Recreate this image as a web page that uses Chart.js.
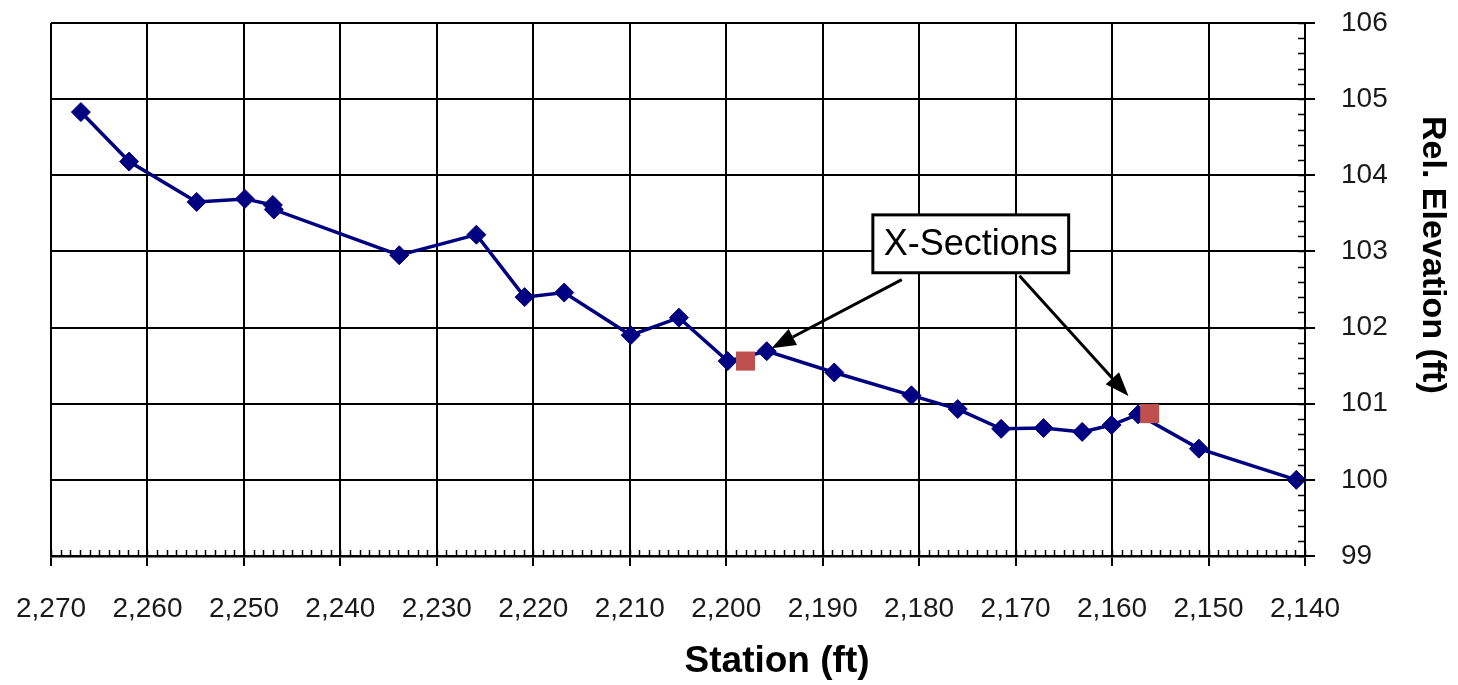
<!DOCTYPE html>
<html>
<head>
<meta charset="utf-8">
<script src="https://cdn.jsdelivr.net/npm/chart.js@4/dist/chart.umd.min.js"></script>
<style>
  html, body { margin: 0; padding: 0; background: #fff; }
</style>
</head>
<body>
<canvas id="myChart" width="1458" height="685"></canvas>
<script>
// profile points (station ft, relative elevation ft)
const stations   = [2266.9, 2261.9, 2254.9, 2249.9, 2247.0, 2246.9, 2233.9, 2225.9, 2220.9, 2216.8,
                    2209.9, 2204.9, 2199.85, 2195.8, 2188.8, 2180.8, 2176.0, 2171.5, 2167.1, 2163.1,
                    2160.05, 2157.3, 2151.0, 2140.9];
const elevations = [104.83, 104.18, 103.65, 103.69, 103.61, 103.55, 102.95, 103.22, 102.40, 102.46,
                    101.90, 102.13, 101.56, 101.69, 101.41, 101.11, 100.93, 100.67, 100.68, 100.63,
                    100.72, 100.86, 100.41, 100.00];

// cross-section locations
const xsStations   = [2198.0, 2156.1];
const xsElevations = [101.56, 100.87];

// axis ranges
const xMin = 2140, xMax = 2270, xStep = 10, xMinor = 1;
const yMin = 99, yMax = 106, yStep = 1, yMinor = 0.2;

// callout
const noteLabel = 'X-Sections';
const noteBox = { x1: 2184.8, y1: 103.48, x2: 2164.5, y2: 102.72 };
const noteArrows = [
    { fromX: 2181.8, fromY: 102.63, toX: 2195.3, toY: 101.73 },
    { fromX: 2169.6, fromY: 102.68, toX: 2158.3, toY: 101.10 }
];

const xTitle = 'Station (ft)';
const yTitle = 'Rel. Elevation (ft)';

const toPoints = (xs, ys) => xs.map((x, i) => ({ x: x, y: ys[i] }));

function arrow(ctx, x1, y1, x2, y2) {
    const ang = Math.atan2(y2 - y1, x2 - x1);
    const len = 24, half = 9;
    const bx = x2 - Math.cos(ang) * len, by = y2 - Math.sin(ang) * len;
    ctx.beginPath();
    ctx.moveTo(x1, y1);
    ctx.lineTo(bx, by);
    ctx.stroke();
    ctx.beginPath();
    ctx.moveTo(x2, y2);
    ctx.lineTo(bx + Math.sin(ang) * half, by - Math.cos(ang) * half);
    ctx.lineTo(bx - Math.sin(ang) * half, by + Math.cos(ang) * half);
    ctx.closePath();
    ctx.fill();
}

// scales keep their own label overhang out of the layout
function noPad(s) {
    s.paddingTop = 0;
    s.paddingBottom = 0;
    s.paddingLeft = 0;
    s.paddingRight = 0;
}

const extras = {
    id: 'extras',
    afterDraw(chart) {
        const ctx = chart.ctx;
        const xs = chart.scales.x, ys = chart.scales.y;
        const a = chart.chartArea;
        ctx.save();
        ctx.strokeStyle = '#000';
        ctx.fillStyle = '#000';
        ctx.lineWidth = 1.5;

        // minor ticks
        ctx.beginPath();
        for (let v = xMin; v <= xMax + 1e-9; v += xMinor) {
            const px = Math.round(xs.getPixelForValue(v)) + 0.5;
            ctx.moveTo(px, a.bottom);
            ctx.lineTo(px, a.bottom - 6);
        }
        for (let v = yMin; v <= yMax + 1e-9; v += yMinor) {
            const py = Math.round(ys.getPixelForValue(v)) + 0.5;
            ctx.moveTo(a.right, py);
            ctx.lineTo(a.right - 7, py);
        }
        ctx.stroke();

        // callout box
        const bx1 = xs.getPixelForValue(noteBox.x1), by1 = ys.getPixelForValue(noteBox.y1);
        const bx2 = xs.getPixelForValue(noteBox.x2), by2 = ys.getPixelForValue(noteBox.y2);
        ctx.fillStyle = '#fff';
        ctx.fillRect(bx1, by1, bx2 - bx1, by2 - by1);
        ctx.lineWidth = 3;
        ctx.strokeRect(bx1, by1, bx2 - bx1, by2 - by1);
        ctx.fillStyle = '#000';
        ctx.font = '36px "Liberation Sans", Arial, sans-serif';
        ctx.textAlign = 'center';
        ctx.textBaseline = 'middle';
        ctx.fillText(noteLabel, (bx1 + bx2) / 2, (by1 + by2) / 2 + 1);

        ctx.lineWidth = 3;
        noteArrows.forEach(function (r) {
            arrow(ctx, xs.getPixelForValue(r.fromX), ys.getPixelForValue(r.fromY),
                       xs.getPixelForValue(r.toX), ys.getPixelForValue(r.toY));
        });

        // axis titles
        ctx.font = 'bold 37px "Liberation Sans", Arial, sans-serif';
        ctx.fillText(xTitle, a.left + (a.right - a.left) * 0.579, a.bottom + 106);
        ctx.font = 'bold 34px "Liberation Sans", Arial, sans-serif';
        ctx.translate(a.right + 127, a.top + (a.bottom - a.top) * 0.435);
        ctx.rotate(Math.PI / 2);
        ctx.fillText(yTitle, 0, 0);
        ctx.restore();
    }
};

const ctx = document.getElementById('myChart').getContext('2d');
const myChart = new Chart(ctx, {
    type: 'scatter',
    data: {
        datasets: [{
            label: 'X-Sections',
            data: toPoints(xsStations, xsElevations),
            pointStyle: 'rect',
            pointRadius: 13.5,
            pointBackgroundColor: '#C0504D',
            pointBorderWidth: 0,
            showLine: false,
            order: 0
        }, {
            label: 'Profile',
            data: toPoints(stations, elevations),
            showLine: true,
            borderColor: '#000080',
            borderWidth: 3.5,
            pointStyle: 'rectRot',
            pointRadius: 9.5,
            pointBackgroundColor: '#000080',
            pointBorderColor: '#000080',
            pointBorderWidth: 1,
            order: 1
        }]
    },
    options: {
        responsive: false,
        animation: false,
        locale: 'en-US',
        layout: { padding: { left: 51, top: 23, right: 0, bottom: 0 } },
        plugins: {
            legend: { display: false },
            tooltip: { enabled: false }
        },
        scales: {
            x: {
                type: 'linear',
                reverse: true,
                min: xMin,
                max: xMax,
                afterFit: function (s) { s.height = 129; noPad(s); },
                ticks: {
                    stepSize: xStep,
                    padding: 26,
                    color: '#1a1a1a',
                    font: { family: '"Liberation Sans", Arial, sans-serif', size: 28 },
                    maxRotation: 0,
                    autoSkip: false
                },
                grid: { color: '#000', lineWidth: 2, tickLength: 10, tickColor: '#000' },
                border: { color: '#000', width: 2.5 }
            },
            y: {
                position: 'right',
                min: yMin,
                max: yMax,
                afterFit: function (s) { s.width = 153; noPad(s); },
                ticks: {
                    stepSize: yStep,
                    padding: 26,
                    color: '#1a1a1a',
                    font: { family: '"Liberation Sans", Arial, sans-serif', size: 28 }
                },
                grid: { color: '#000', lineWidth: 2, tickLength: 10, tickColor: '#000' },
                border: { color: '#000', width: 2 }
            }
        }
    },
    plugins: [extras]
});
</script>
</body>
</html>
